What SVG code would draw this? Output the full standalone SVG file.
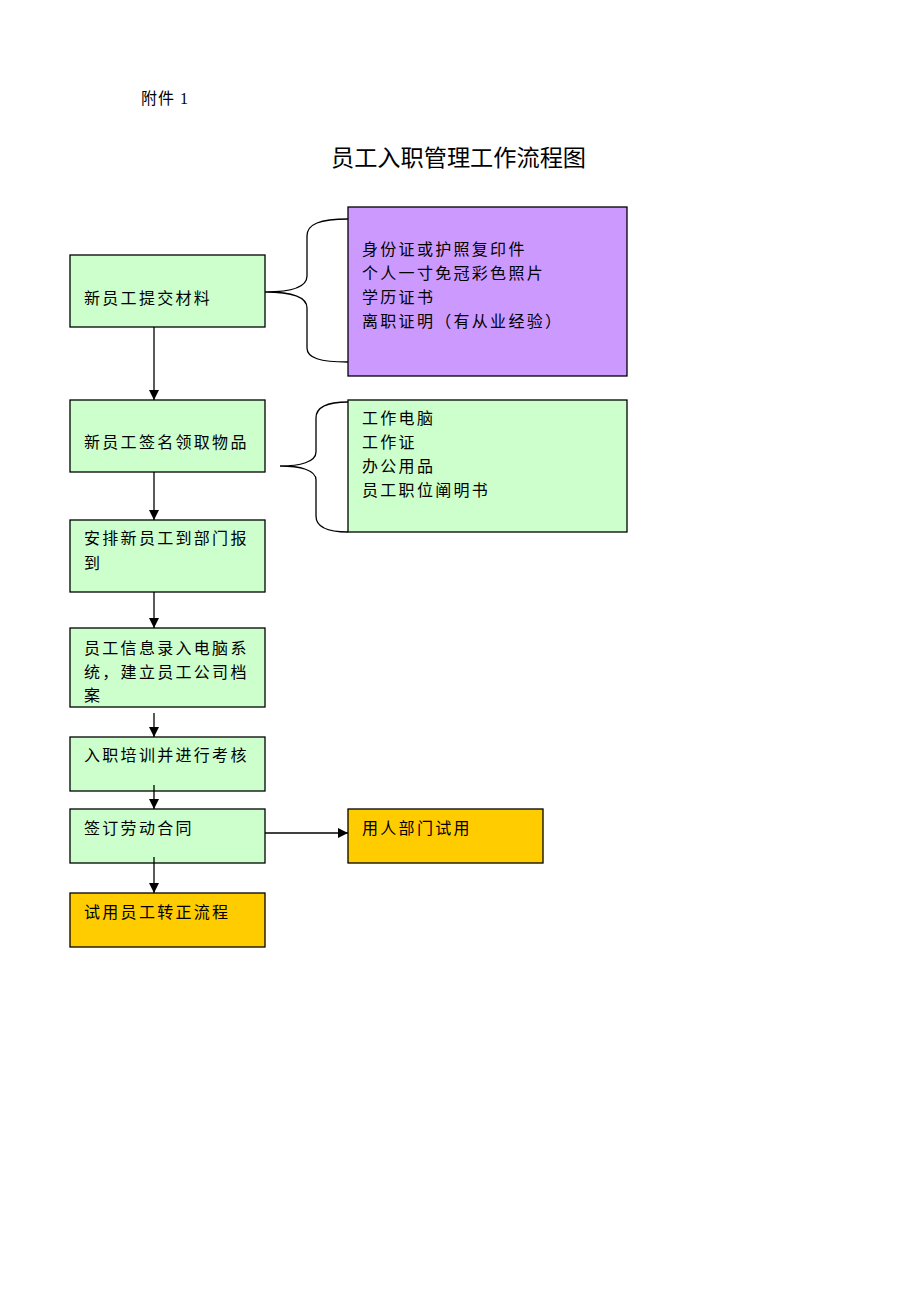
<svg xmlns="http://www.w3.org/2000/svg" width="920" height="1302" viewBox="0 0 920 1302">
<defs>
<style>
.box{stroke:#000;stroke-width:1.3}
.g{fill:#CCFFCC}.p{fill:#CC99FF}.o{fill:#FFCC00}
.t{font-family:"Noto Sans CJK SC","Liberation Serif",sans-serif;font-size:16px;letter-spacing:2.3px;fill:#000}
.ln{stroke:#000;stroke-width:1.3;fill:none}
</style>
<marker id="ah" viewBox="0 0 10 10" refX="10" refY="5" markerWidth="10" markerHeight="10" markerUnits="userSpaceOnUse" orient="auto">
<path d="M0,0 L10,5 L0,10 Z" fill="#000"/>
</marker>
</defs>
<rect width="920" height="1302" fill="#fff"/>
<text x="141" y="104" font-family="Liberation Serif,'Noto Sans CJK SC',serif" font-size="16" letter-spacing="1">附件 1</text>
<text x="331" y="166" font-family="'Noto Sans CJK SC',sans-serif" font-size="23.2">员工入职管理工作流程图</text>

<g id="n1"><rect class="box g" x="70" y="255" width="195" height="72"/><text class="t" x="84" y="304">新员工提交材料</text></g>
<g id="n2"><rect class="box g" x="70" y="400" width="195" height="72"/><text class="t" x="84" y="448">新员工签名领取物品</text></g>
<g id="n3"><rect class="box g" x="70" y="520" width="195" height="72"/><text class="t" x="84" y="544">安排新员工到部门报</text><text class="t" x="84" y="569">到</text></g>
<g id="n4"><rect class="box g" x="70" y="628" width="195" height="79"/><text class="t" x="84" y="654">员工信息录入电脑系</text><text class="t" x="84" y="678">统，建立员工公司档</text><text class="t" x="84" y="701">案</text></g>
<g id="n5"><rect class="box g" x="70" y="737" width="195" height="54"/><text class="t" x="84" y="761">入职培训并进行考核</text></g>
<g id="n6"><rect class="box g" x="70" y="809" width="195" height="54"/><text class="t" x="84" y="834">签订劳动合同</text></g>
<g id="n7"><rect class="box o" x="70" y="893" width="195" height="54"/><text class="t" x="84" y="918">试用员工转正流程</text></g>
<g id="n8"><rect class="box p" x="348" y="207" width="279" height="169"/><text class="t" x="362" y="255">身份证或护照复印件</text><text class="t" x="362" y="279">个人一寸免冠彩色照片</text><text class="t" x="362" y="303">学历证书</text><text class="t" x="362" y="327">离职证明（有从业经验）</text></g>
<g id="n9"><rect class="box g" x="348" y="400" width="279" height="132"/><text class="t" x="362" y="424">工作电脑</text><text class="t" x="362" y="448">工作证</text><text class="t" x="362" y="472">办公用品</text><text class="t" x="362" y="496">员工职位阐明书</text></g>
<g id="n10"><rect class="box o" x="348" y="809" width="195" height="54"/><text class="t" x="362" y="834">用人部门试用</text></g>

<g id="connectors">
<path class="ln" d="M348,219 C320,219 307,224 307,236 L307,276 C307,288 290,292 265,292 C290,292 307,296 307,308 L307,348 C307,358 320,362 348,362"/>
<path class="ln" d="M348,402 C328,402 316,406 316,418 L316,452 C316,462 300,466 280,466 C300,466 316,470 316,480 L316,516 C316,527 328,532 348,532"/>
<line class="ln" x1="154" y1="327" x2="154" y2="400" marker-end="url(#ah)"/>
<line class="ln" x1="154" y1="472" x2="154" y2="520" marker-end="url(#ah)"/>
<line class="ln" x1="154" y1="592" x2="154" y2="628" marker-end="url(#ah)"/>
<line class="ln" x1="154" y1="713" x2="154" y2="737" marker-end="url(#ah)"/>
<line class="ln" x1="154" y1="785" x2="154" y2="809" marker-end="url(#ah)"/>
<line class="ln" x1="154" y1="857" x2="154" y2="893" marker-end="url(#ah)"/>
<line class="ln" x1="265" y1="833" x2="348" y2="833" marker-end="url(#ah)"/>
</g>
</svg>
